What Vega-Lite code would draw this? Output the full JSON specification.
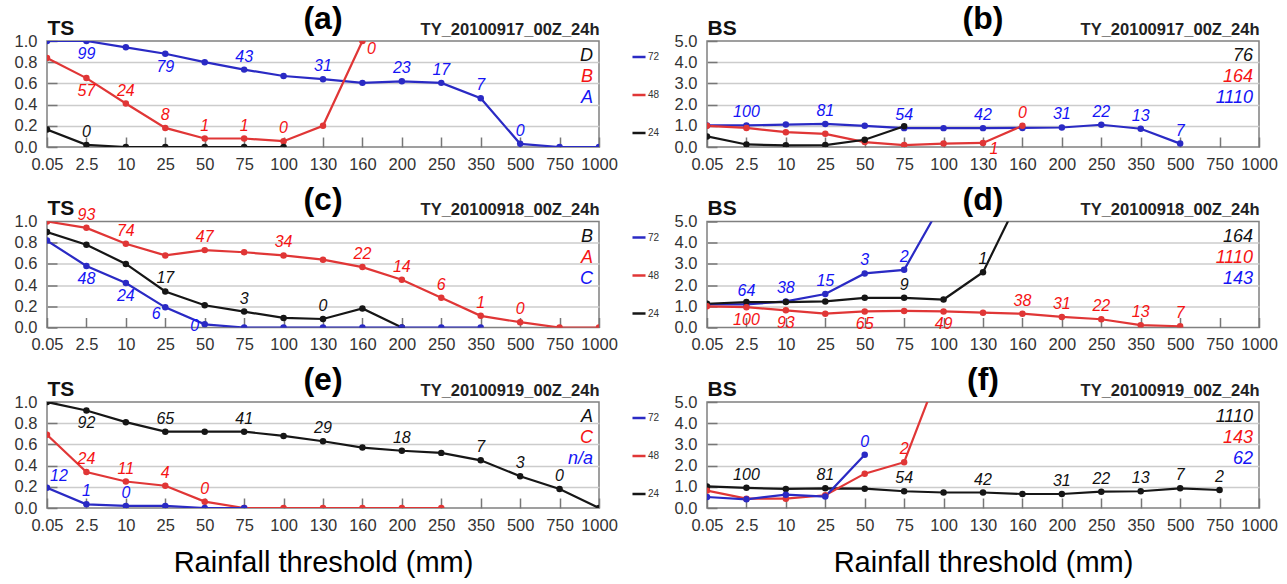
{
  "$schema": "https://vega.github.io/schema/vega-lite/v6.json",
  "background": "white",
  "padding": {"left": 13, "top": 2, "right": 4, "bottom": 5},
  "config": {
    "font": "Liberation Sans",
    "view": {"stroke": "#808080", "strokeWidth": 1.5},
    "title": {"fontSize": 32, "fontWeight": "bold", "anchor": "middle", "offset": 0, "dy": 23, "color": "#000"},
    "axisX": {"labelAngle": 0, "tickSize": -10, "labelPadding": 19, "grid": false, "domain": false, "labelFontSize": 16.5, "labelColor": "#333", "tickColor": "#777", "tickWidth": 1.5, "titleFontSize": 29, "titleFontWeight": "normal", "titlePadding": 15, "titleColor": "#000"},
    "axisY": {"tickSize": -10, "labelPadding": 20, "grid": true, "gridWidth": 1.5, "domain": false, "labelFontSize": 16.5, "labelColor": "#333", "tickColor": "#777", "tickWidth": 1.5, "titleAngle": 0, "titleAlign": "left", "titleBaseline": "alphabetic", "titleX": 0, "titleY": -7, "titleFontSize": 21, "titleFontWeight": "bold", "titleColor": "#111"},
    "legend": {"orient": "left", "symbolType": "stroke", "symbolStrokeWidth": 2.5, "symbolSize": 170, "labelFontSize": 10, "labelColor": "#333", "rowPadding": 25, "padding": 8, "offset": 6, "labelOffset": 1}
  },
  "datasets": {
    "pts": [
      {"p":"a","s":"72","x":"0.05","v":1.0},
      {"p":"a","s":"72","x":"2.5","v":1.0,"l":"99","d":"dn"},
      {"p":"a","s":"72","x":"10","v":0.94},
      {"p":"a","s":"72","x":"25","v":0.88,"l":"79","d":"dn"},
      {"p":"a","s":"72","x":"50","v":0.80},
      {"p":"a","s":"72","x":"75","v":0.73,"l":"43","d":"up"},
      {"p":"a","s":"72","x":"100","v":0.67},
      {"p":"a","s":"72","x":"130","v":0.64,"l":"31","d":"up"},
      {"p":"a","s":"72","x":"160","v":0.605},
      {"p":"a","s":"72","x":"200","v":0.62,"l":"23","d":"up"},
      {"p":"a","s":"72","x":"250","v":0.605,"l":"17","d":"up"},
      {"p":"a","s":"72","x":"350","v":0.46,"l":"7","d":"up"},
      {"p":"a","s":"72","x":"500","v":0.03,"l":"0","d":"up"},
      {"p":"a","s":"72","x":"750","v":0.0},
      {"p":"a","s":"72","x":"1000","v":0.0},
      {"p":"a","s":"48","x":"0.05","v":0.84},
      {"p":"a","s":"48","x":"2.5","v":0.65,"l":"57","d":"dn"},
      {"p":"a","s":"48","x":"10","v":0.41,"l":"24","d":"up"},
      {"p":"a","s":"48","x":"25","v":0.18,"l":"8","d":"up"},
      {"p":"a","s":"48","x":"50","v":0.08,"l":"1","d":"up"},
      {"p":"a","s":"48","x":"75","v":0.08,"l":"1","d":"up"},
      {"p":"a","s":"48","x":"100","v":0.055,"l":"0","d":"up"},
      {"p":"a","s":"48","x":"130","v":0.20},
      {"p":"a","s":"48","x":"160","v":1.0,"l":"0","d":"br"},
      {"p":"a","s":"24","x":"0.05","v":0.165},
      {"p":"a","s":"24","x":"2.5","v":0.02,"l":"0","d":"up"},
      {"p":"a","s":"24","x":"10","v":0.0},
      {"p":"a","s":"24","x":"25","v":0.0},
      {"p":"a","s":"24","x":"50","v":0.0},
      {"p":"a","s":"24","x":"75","v":0.0},
      {"p":"a","s":"24","x":"100","v":0.0},

      {"p":"b","s":"72","x":"0.05","v":1.02},
      {"p":"b","s":"72","x":"2.5","v":1.02,"l":"100","d":"up"},
      {"p":"b","s":"72","x":"10","v":1.06},
      {"p":"b","s":"72","x":"25","v":1.09,"l":"81","d":"up"},
      {"p":"b","s":"72","x":"50","v":1.0},
      {"p":"b","s":"72","x":"75","v":0.89,"l":"54","d":"up"},
      {"p":"b","s":"72","x":"100","v":0.89},
      {"p":"b","s":"72","x":"130","v":0.89,"l":"42","d":"up"},
      {"p":"b","s":"72","x":"160","v":0.9},
      {"p":"b","s":"72","x":"200","v":0.92,"l":"31","d":"up"},
      {"p":"b","s":"72","x":"250","v":1.05,"l":"22","d":"up"},
      {"p":"b","s":"72","x":"350","v":0.86,"l":"13","d":"up"},
      {"p":"b","s":"72","x":"500","v":0.16,"l":"7","d":"up"},
      {"p":"b","s":"48","x":"0.05","v":1.0},
      {"p":"b","s":"48","x":"2.5","v":0.9},
      {"p":"b","s":"48","x":"10","v":0.7},
      {"p":"b","s":"48","x":"25","v":0.62},
      {"p":"b","s":"48","x":"50","v":0.23},
      {"p":"b","s":"48","x":"75","v":0.09},
      {"p":"b","s":"48","x":"100","v":0.16},
      {"p":"b","s":"48","x":"130","v":0.19,"l":"1","d":"br"},
      {"p":"b","s":"48","x":"160","v":1.0,"l":"0","d":"up"},
      {"p":"b","s":"24","x":"0.05","v":0.5},
      {"p":"b","s":"24","x":"2.5","v":0.12},
      {"p":"b","s":"24","x":"10","v":0.08},
      {"p":"b","s":"24","x":"25","v":0.09},
      {"p":"b","s":"24","x":"50","v":0.34},
      {"p":"b","s":"24","x":"75","v":0.98},

      {"p":"c","s":"48","x":"0.05","v":1.0},
      {"p":"c","s":"48","x":"2.5","v":0.94,"l":"93","d":"up"},
      {"p":"c","s":"48","x":"10","v":0.79,"l":"74","d":"up"},
      {"p":"c","s":"48","x":"25","v":0.68},
      {"p":"c","s":"48","x":"50","v":0.73,"l":"47","d":"up"},
      {"p":"c","s":"48","x":"75","v":0.71},
      {"p":"c","s":"48","x":"100","v":0.68,"l":"34","d":"up"},
      {"p":"c","s":"48","x":"130","v":0.64},
      {"p":"c","s":"48","x":"160","v":0.57,"l":"22","d":"up"},
      {"p":"c","s":"48","x":"200","v":0.45,"l":"14","d":"up"},
      {"p":"c","s":"48","x":"250","v":0.28,"l":"6","d":"up"},
      {"p":"c","s":"48","x":"350","v":0.11,"l":"1","d":"up"},
      {"p":"c","s":"48","x":"500","v":0.05,"l":"0","d":"up"},
      {"p":"c","s":"48","x":"750","v":0.0},
      {"p":"c","s":"48","x":"1000","v":0.0},
      {"p":"c","s":"24","x":"0.05","v":0.90},
      {"p":"c","s":"24","x":"2.5","v":0.78},
      {"p":"c","s":"24","x":"10","v":0.60},
      {"p":"c","s":"24","x":"25","v":0.34,"l":"17","d":"up"},
      {"p":"c","s":"24","x":"50","v":0.21},
      {"p":"c","s":"24","x":"75","v":0.15,"l":"3","d":"up"},
      {"p":"c","s":"24","x":"100","v":0.09},
      {"p":"c","s":"24","x":"130","v":0.08,"l":"0","d":"up"},
      {"p":"c","s":"24","x":"160","v":0.18},
      {"p":"c","s":"24","x":"200","v":0.0},
      {"p":"c","s":"72","x":"0.05","v":0.82},
      {"p":"c","s":"72","x":"2.5","v":0.58,"l":"48","d":"dn"},
      {"p":"c","s":"72","x":"10","v":0.42,"l":"24","d":"dn"},
      {"p":"c","s":"72","x":"25","v":0.19,"l":"6","d":"bl"},
      {"p":"c","s":"72","x":"50","v":0.03,"l":"0","d":"bl2"},
      {"p":"c","s":"72","x":"75","v":0.0},
      {"p":"c","s":"72","x":"100","v":0.0},
      {"p":"c","s":"72","x":"130","v":0.0},
      {"p":"c","s":"72","x":"160","v":0.0},
      {"p":"c","s":"72","x":"200","v":0.0},
      {"p":"c","s":"72","x":"250","v":0.0},
      {"p":"c","s":"72","x":"350","v":0.0},

      {"p":"d","s":"72","x":"0.05","v":1.09},
      {"p":"d","s":"72","x":"2.5","v":1.09,"l":"64","d":"up"},
      {"p":"d","s":"72","x":"10","v":1.23,"l":"38","d":"up"},
      {"p":"d","s":"72","x":"25","v":1.58,"l":"15","d":"up"},
      {"p":"d","s":"72","x":"50","v":2.55,"l":"3","d":"up"},
      {"p":"d","s":"72","x":"75","v":2.72,"l":"2","d":"up"},
      {"p":"d","s":"72","x":"100","v":6.0},
      {"p":"d","s":"24","x":"0.05","v":1.12},
      {"p":"d","s":"24","x":"2.5","v":1.2},
      {"p":"d","s":"24","x":"10","v":1.2},
      {"p":"d","s":"24","x":"25","v":1.23},
      {"p":"d","s":"24","x":"50","v":1.4},
      {"p":"d","s":"24","x":"75","v":1.4,"l":"9","d":"up"},
      {"p":"d","s":"24","x":"100","v":1.32},
      {"p":"d","s":"24","x":"130","v":2.61,"l":"1","d":"up"},
      {"p":"d","s":"24","x":"160","v":6.4},
      {"p":"d","s":"48","x":"0.05","v":1.0},
      {"p":"d","s":"48","x":"2.5","v":0.96,"l":"100","d":"dn"},
      {"p":"d","s":"48","x":"10","v":0.81,"l":"93","d":"dn"},
      {"p":"d","s":"48","x":"25","v":0.65},
      {"p":"d","s":"48","x":"50","v":0.76,"l":"65","d":"dn"},
      {"p":"d","s":"48","x":"75","v":0.78},
      {"p":"d","s":"48","x":"100","v":0.76,"l":"49","d":"dn"},
      {"p":"d","s":"48","x":"130","v":0.7},
      {"p":"d","s":"48","x":"160","v":0.65,"l":"38","d":"up"},
      {"p":"d","s":"48","x":"200","v":0.5,"l":"31","d":"up"},
      {"p":"d","s":"48","x":"250","v":0.39,"l":"22","d":"up"},
      {"p":"d","s":"48","x":"350","v":0.11,"l":"13","d":"up"},
      {"p":"d","s":"48","x":"500","v":0.06,"l":"7","d":"up"},

      {"p":"e","s":"24","x":"0.05","v":1.0},
      {"p":"e","s":"24","x":"2.5","v":0.92,"l":"92","d":"dn"},
      {"p":"e","s":"24","x":"10","v":0.81},
      {"p":"e","s":"24","x":"25","v":0.72,"l":"65","d":"up"},
      {"p":"e","s":"24","x":"50","v":0.72},
      {"p":"e","s":"24","x":"75","v":0.72,"l":"41","d":"up"},
      {"p":"e","s":"24","x":"100","v":0.68},
      {"p":"e","s":"24","x":"130","v":0.63,"l":"29","d":"up"},
      {"p":"e","s":"24","x":"160","v":0.57},
      {"p":"e","s":"24","x":"200","v":0.54,"l":"18","d":"up"},
      {"p":"e","s":"24","x":"250","v":0.52},
      {"p":"e","s":"24","x":"350","v":0.45,"l":"7","d":"up"},
      {"p":"e","s":"24","x":"500","v":0.30,"l":"3","d":"up"},
      {"p":"e","s":"24","x":"750","v":0.18,"l":"0","d":"up"},
      {"p":"e","s":"24","x":"1000","v":0.0},
      {"p":"e","s":"48","x":"0.05","v":0.69},
      {"p":"e","s":"48","x":"2.5","v":0.34,"l":"24","d":"up"},
      {"p":"e","s":"48","x":"10","v":0.25,"l":"11","d":"up"},
      {"p":"e","s":"48","x":"25","v":0.21,"l":"4","d":"up"},
      {"p":"e","s":"48","x":"50","v":0.06,"l":"0","d":"up"},
      {"p":"e","s":"48","x":"75","v":0.0},
      {"p":"e","s":"48","x":"100","v":0.0},
      {"p":"e","s":"48","x":"130","v":0.0},
      {"p":"e","s":"48","x":"160","v":0.0},
      {"p":"e","s":"48","x":"200","v":0.0},
      {"p":"e","s":"48","x":"250","v":0.0},
      {"p":"e","s":"72","x":"0.05","v":0.19,"l":"12","d":"ur"},
      {"p":"e","s":"72","x":"2.5","v":0.035,"l":"1","d":"up"},
      {"p":"e","s":"72","x":"10","v":0.02,"l":"0","d":"up"},
      {"p":"e","s":"72","x":"25","v":0.02},
      {"p":"e","s":"72","x":"50","v":0.0},
      {"p":"e","s":"72","x":"75","v":0.0},

      {"p":"f","s":"24","x":"0.05","v":1.02},
      {"p":"f","s":"24","x":"2.5","v":0.95,"l":"100","d":"up"},
      {"p":"f","s":"24","x":"10","v":0.9},
      {"p":"f","s":"24","x":"25","v":0.93,"l":"81","d":"up"},
      {"p":"f","s":"24","x":"50","v":0.91},
      {"p":"f","s":"24","x":"75","v":0.79,"l":"54","d":"up"},
      {"p":"f","s":"24","x":"100","v":0.73},
      {"p":"f","s":"24","x":"130","v":0.73,"l":"42","d":"up"},
      {"p":"f","s":"24","x":"160","v":0.66},
      {"p":"f","s":"24","x":"200","v":0.66,"l":"31","d":"up"},
      {"p":"f","s":"24","x":"250","v":0.77,"l":"22","d":"up"},
      {"p":"f","s":"24","x":"350","v":0.79,"l":"13","d":"up"},
      {"p":"f","s":"24","x":"500","v":0.93,"l":"7","d":"up"},
      {"p":"f","s":"24","x":"750","v":0.85,"l":"2","d":"up"},
      {"p":"f","s":"48","x":"0.05","v":0.82},
      {"p":"f","s":"48","x":"2.5","v":0.44},
      {"p":"f","s":"48","x":"10","v":0.44},
      {"p":"f","s":"48","x":"25","v":0.6},
      {"p":"f","s":"48","x":"50","v":1.62},
      {"p":"f","s":"48","x":"75","v":2.16,"l":"2","d":"up"},
      {"p":"f","s":"48","x":"100","v":7.0},
      {"p":"f","s":"72","x":"0.05","v":0.52},
      {"p":"f","s":"72","x":"2.5","v":0.41},
      {"p":"f","s":"72","x":"10","v":0.63},
      {"p":"f","s":"72","x":"25","v":0.54},
      {"p":"f","s":"72","x":"50","v":2.51,"l":"0","d":"up"}
    ],
    "ann": [
      {"p":"a","s":"24","t":"D"},{"p":"a","s":"48","t":"B"},{"p":"a","s":"72","t":"A"},
      {"p":"b","s":"24","t":"76"},{"p":"b","s":"48","t":"164"},{"p":"b","s":"72","t":"1110"},
      {"p":"c","s":"24","t":"B"},{"p":"c","s":"48","t":"A"},{"p":"c","s":"72","t":"C"},
      {"p":"d","s":"24","t":"164"},{"p":"d","s":"48","t":"1110"},{"p":"d","s":"72","t":"143"},
      {"p":"e","s":"24","t":"A"},{"p":"e","s":"48","t":"C"},{"p":"e","s":"72","t":"n/a"},
      {"p":"f","s":"24","t":"1110"},{"p":"f","s":"48","t":"143"},{"p":"f","s":"72","t":"62"}
    ]
  },
  "columns": 2,
  "spacing": {"row": 74.5, "column": 108},
  "bounds": "flush",
  "resolve": {"scale": {"color": "independent", "fill": "independent"}, "legend": {"color": "independent", "fill": "independent"}},
  "concat": [
    {
      "title": "(a)", "width": 552, "height": 106,
      "resolve": {"scale": {"y": "independent"}},
      "layer": [
        {
          "data": {"name": "pts"},
          "transform": [{"filter": "datum.p == 'a'"}],
          "encoding": {
            "x": {"field": "x", "type": "ordinal", "scale": {"type": "point", "padding": 0, "domain": ["0.05","2.5","10","25","50","75","100","130","160","200","250","350","500","750","1000"]}, "axis": {"title": null}},
            "y": {"field": "v", "type": "quantitative", "scale": {"domain": [0, 1]}, "axis": {"values": [0,0.2,0.4,0.6,0.8,1], "format": ".1f", "title": "TS", "gridColor": {"condition": {"test": "datum.value == 0 || datum.value == 1", "value": "rgba(0,0,0,0)"}, "value": "#cccccc"}}}
          },
          "layer": [
            {"mark": {"type": "line", "clip": true, "strokeWidth": 2.2}, "encoding": {"color": {"field": "s", "type": "nominal", "scale": {"domain": ["72","48","24"], "range": ["#2a2ac4","#e03636","#161616"]}, "legend": null}}},
            {"mark": {"type": "circle", "clip": true, "size": 42, "opacity": 1}, "encoding": {"color": {"field": "s", "type": "nominal", "scale": {"domain": ["72","48","24"], "range": ["#2a2ac4","#e03636","#161616"]}, "legend": null}}},
            {"transform": [{"filter": "datum.d == 'up'"}], "mark": {"type": "text", "dy": -13, "fontStyle": "italic", "fontSize": 16}, "encoding": {"text": {"field": "l"}, "fill": {"field": "s", "type": "nominal", "scale": {"domain": ["72","48","24"], "range": ["#1414f5","#f51414","#111111"]}, "legend": null}}},
            {"transform": [{"filter": "datum.d == 'dn'"}], "mark": {"type": "text", "dy": 13, "fontStyle": "italic", "fontSize": 16}, "encoding": {"text": {"field": "l"}, "fill": {"field": "s", "type": "nominal", "scale": {"domain": ["72","48","24"], "range": ["#1414f5","#f51414","#111111"]}, "legend": null}}},
            {"transform": [{"filter": "datum.d == 'br'"}], "mark": {"type": "text", "dx": 9, "dy": 8, "fontStyle": "italic", "fontSize": 16}, "encoding": {"text": {"field": "l"}, "fill": {"field": "s", "type": "nominal", "scale": {"domain": ["72","48","24"], "range": ["#1414f5","#f51414","#111111"]}, "legend": null}}}
          ]
        },
        {
          "data": {"name": "ann"},
          "transform": [{"filter": "datum.p == 'a'"}],
          "mark": {"type": "text", "align": "right", "dx": -6, "fontStyle": "italic", "fontSize": 18},
          "encoding": {
            "x": {"datum": "1000", "type": "ordinal"},
            "y": {"field": "s", "type": "nominal", "scale": {"type": "point", "domain": ["24","48","72"], "range": [15, 57], "padding": 0}, "axis": {"orient": "right", "labels": false, "ticks": false, "domain": false, "grid": false, "title": "TY_20100917_00Z_24h", "titleAngle": 0, "titleAlign": "right", "titleBaseline": "alphabetic", "titleX": 0, "titleY": -7, "titleFontSize": 16.5, "titleFontWeight": "bold", "titleColor": "#222"}},
            "text": {"field": "t"},
            "fill": {"field": "s", "type": "nominal", "scale": {"domain": ["72","48","24"], "range": ["#1414f5","#f51414","#111111"]}, "legend": null}
          }
        }
      ]
    },
    {
      "title": "(b)", "width": 552, "height": 106,
      "resolve": {"scale": {"y": "independent"}},
      "layer": [
        {
          "data": {"name": "pts"},
          "transform": [{"filter": "datum.p == 'b'"}],
          "encoding": {
            "x": {"field": "x", "type": "ordinal", "scale": {"type": "point", "padding": 0, "domain": ["0.05","2.5","10","25","50","75","100","130","160","200","250","350","500","750","1000"]}, "axis": {"title": null}},
            "y": {"field": "v", "type": "quantitative", "scale": {"domain": [0, 5]}, "axis": {"values": [0,1,2,3,4,5], "format": ".1f", "title": "BS", "gridColor": {"condition": {"test": "datum.value == 0 || datum.value == 5", "value": "rgba(0,0,0,0)"}, "value": "#cccccc"}}}
          },
          "layer": [
            {"mark": {"type": "line", "clip": true, "strokeWidth": 2.2}, "encoding": {"color": {"field": "s", "type": "nominal", "scale": {"domain": ["72","48","24"], "range": ["#2a2ac4","#e03636","#161616"]}, "legend": {"title": null}}}},
            {"mark": {"type": "circle", "clip": true, "size": 42, "opacity": 1}, "encoding": {"color": {"field": "s", "type": "nominal", "scale": {"domain": ["72","48","24"], "range": ["#2a2ac4","#e03636","#161616"]}}}},
            {"transform": [{"filter": "datum.d == 'up'"}], "mark": {"type": "text", "dy": -13, "fontStyle": "italic", "fontSize": 16}, "encoding": {"text": {"field": "l"}, "fill": {"field": "s", "type": "nominal", "scale": {"domain": ["72","48","24"], "range": ["#1414f5","#f51414","#111111"]}, "legend": null}}},
            {"transform": [{"filter": "datum.d == 'br'"}], "mark": {"type": "text", "dx": 11, "dy": 6, "fontStyle": "italic", "fontSize": 16}, "encoding": {"text": {"field": "l"}, "fill": {"field": "s", "type": "nominal", "scale": {"domain": ["72","48","24"], "range": ["#1414f5","#f51414","#111111"]}, "legend": null}}}
          ]
        },
        {
          "data": {"name": "ann"},
          "transform": [{"filter": "datum.p == 'b'"}],
          "mark": {"type": "text", "align": "right", "dx": -6, "fontStyle": "italic", "fontSize": 18},
          "encoding": {
            "x": {"datum": "1000", "type": "ordinal"},
            "y": {"field": "s", "type": "nominal", "scale": {"type": "point", "domain": ["24","48","72"], "range": [15, 57], "padding": 0}, "axis": {"orient": "right", "labels": false, "ticks": false, "domain": false, "grid": false, "title": "TY_20100917_00Z_24h", "titleAngle": 0, "titleAlign": "right", "titleBaseline": "alphabetic", "titleX": 0, "titleY": -7, "titleFontSize": 16.5, "titleFontWeight": "bold", "titleColor": "#222"}},
            "text": {"field": "t"},
            "fill": {"field": "s", "type": "nominal", "scale": {"domain": ["72","48","24"], "range": ["#1414f5","#f51414","#111111"]}, "legend": null}
          }
        }
      ]
    },
    {
      "title": "(c)", "width": 552, "height": 106,
      "resolve": {"scale": {"y": "independent"}},
      "layer": [
        {
          "data": {"name": "pts"},
          "transform": [{"filter": "datum.p == 'c'"}],
          "encoding": {
            "x": {"field": "x", "type": "ordinal", "scale": {"type": "point", "padding": 0, "domain": ["0.05","2.5","10","25","50","75","100","130","160","200","250","350","500","750","1000"]}, "axis": {"title": null}},
            "y": {"field": "v", "type": "quantitative", "scale": {"domain": [0, 1]}, "axis": {"values": [0,0.2,0.4,0.6,0.8,1], "format": ".1f", "title": "TS", "gridColor": {"condition": {"test": "datum.value == 0 || datum.value == 1", "value": "rgba(0,0,0,0)"}, "value": "#cccccc"}}}
          },
          "layer": [
            {"mark": {"type": "line", "clip": true, "strokeWidth": 2.2}, "encoding": {"color": {"field": "s", "type": "nominal", "scale": {"domain": ["72","48","24"], "range": ["#2a2ac4","#e03636","#161616"]}, "legend": null}}},
            {"mark": {"type": "circle", "clip": true, "size": 42, "opacity": 1}, "encoding": {"color": {"field": "s", "type": "nominal", "scale": {"domain": ["72","48","24"], "range": ["#2a2ac4","#e03636","#161616"]}, "legend": null}}},
            {"transform": [{"filter": "datum.d == 'up'"}], "mark": {"type": "text", "dy": -13, "fontStyle": "italic", "fontSize": 16}, "encoding": {"text": {"field": "l"}, "fill": {"field": "s", "type": "nominal", "scale": {"domain": ["72","48","24"], "range": ["#1414f5","#f51414","#111111"]}, "legend": null}}},
            {"transform": [{"filter": "datum.d == 'dn'"}], "mark": {"type": "text", "dy": 13, "fontStyle": "italic", "fontSize": 16}, "encoding": {"text": {"field": "l"}, "fill": {"field": "s", "type": "nominal", "scale": {"domain": ["72","48","24"], "range": ["#1414f5","#f51414","#111111"]}, "legend": null}}},
            {"transform": [{"filter": "datum.d == 'bl'"}], "mark": {"type": "text", "dx": -9, "dy": 7, "fontStyle": "italic", "fontSize": 16}, "encoding": {"text": {"field": "l"}, "fill": {"field": "s", "type": "nominal", "scale": {"domain": ["72","48","24"], "range": ["#1414f5","#f51414","#111111"]}, "legend": null}}},
            {"transform": [{"filter": "datum.d == 'bl2'"}], "mark": {"type": "text", "dx": -10, "dy": 2, "fontStyle": "italic", "fontSize": 16}, "encoding": {"text": {"field": "l"}, "fill": {"field": "s", "type": "nominal", "scale": {"domain": ["72","48","24"], "range": ["#1414f5","#f51414","#111111"]}, "legend": null}}}
          ]
        },
        {
          "data": {"name": "ann"},
          "transform": [{"filter": "datum.p == 'c'"}],
          "mark": {"type": "text", "align": "right", "dx": -6, "fontStyle": "italic", "fontSize": 18},
          "encoding": {
            "x": {"datum": "1000", "type": "ordinal"},
            "y": {"field": "s", "type": "nominal", "scale": {"type": "point", "domain": ["24","48","72"], "range": [15, 57], "padding": 0}, "axis": {"orient": "right", "labels": false, "ticks": false, "domain": false, "grid": false, "title": "TY_20100918_00Z_24h", "titleAngle": 0, "titleAlign": "right", "titleBaseline": "alphabetic", "titleX": 0, "titleY": -7, "titleFontSize": 16.5, "titleFontWeight": "bold", "titleColor": "#222"}},
            "text": {"field": "t"},
            "fill": {"field": "s", "type": "nominal", "scale": {"domain": ["72","48","24"], "range": ["#1414f5","#f51414","#111111"]}, "legend": null}
          }
        }
      ]
    },
    {
      "title": "(d)", "width": 552, "height": 106,
      "resolve": {"scale": {"y": "independent"}},
      "layer": [
        {
          "data": {"name": "pts"},
          "transform": [{"filter": "datum.p == 'd'"}],
          "encoding": {
            "x": {"field": "x", "type": "ordinal", "scale": {"type": "point", "padding": 0, "domain": ["0.05","2.5","10","25","50","75","100","130","160","200","250","350","500","750","1000"]}, "axis": {"title": null}},
            "y": {"field": "v", "type": "quantitative", "scale": {"domain": [0, 5]}, "axis": {"values": [0,1,2,3,4,5], "format": ".1f", "title": "BS", "gridColor": {"condition": {"test": "datum.value == 0 || datum.value == 5", "value": "rgba(0,0,0,0)"}, "value": "#cccccc"}}}
          },
          "layer": [
            {"mark": {"type": "line", "clip": true, "strokeWidth": 2.2}, "encoding": {"color": {"field": "s", "type": "nominal", "scale": {"domain": ["72","48","24"], "range": ["#2a2ac4","#e03636","#161616"]}, "legend": {"title": null}}}},
            {"mark": {"type": "circle", "clip": true, "size": 42, "opacity": 1}, "encoding": {"color": {"field": "s", "type": "nominal", "scale": {"domain": ["72","48","24"], "range": ["#2a2ac4","#e03636","#161616"]}}}},
            {"transform": [{"filter": "datum.d == 'up'"}], "mark": {"type": "text", "dy": -13, "fontStyle": "italic", "fontSize": 16}, "encoding": {"text": {"field": "l"}, "fill": {"field": "s", "type": "nominal", "scale": {"domain": ["72","48","24"], "range": ["#1414f5","#f51414","#111111"]}, "legend": null}}},
            {"transform": [{"filter": "datum.d == 'dn'"}], "mark": {"type": "text", "dy": 13, "fontStyle": "italic", "fontSize": 16}, "encoding": {"text": {"field": "l"}, "fill": {"field": "s", "type": "nominal", "scale": {"domain": ["72","48","24"], "range": ["#1414f5","#f51414","#111111"]}, "legend": null}}}
          ]
        },
        {
          "data": {"name": "ann"},
          "transform": [{"filter": "datum.p == 'd'"}],
          "mark": {"type": "text", "align": "right", "dx": -6, "fontStyle": "italic", "fontSize": 18},
          "encoding": {
            "x": {"datum": "1000", "type": "ordinal"},
            "y": {"field": "s", "type": "nominal", "scale": {"type": "point", "domain": ["24","48","72"], "range": [15, 57], "padding": 0}, "axis": {"orient": "right", "labels": false, "ticks": false, "domain": false, "grid": false, "title": "TY_20100918_00Z_24h", "titleAngle": 0, "titleAlign": "right", "titleBaseline": "alphabetic", "titleX": 0, "titleY": -7, "titleFontSize": 16.5, "titleFontWeight": "bold", "titleColor": "#222"}},
            "text": {"field": "t"},
            "fill": {"field": "s", "type": "nominal", "scale": {"domain": ["72","48","24"], "range": ["#1414f5","#f51414","#111111"]}, "legend": null}
          }
        }
      ]
    },
    {
      "title": "(e)", "width": 552, "height": 106,
      "resolve": {"scale": {"y": "independent"}},
      "layer": [
        {
          "data": {"name": "pts"},
          "transform": [{"filter": "datum.p == 'e'"}],
          "encoding": {
            "x": {"field": "x", "type": "ordinal", "scale": {"type": "point", "padding": 0, "domain": ["0.05","2.5","10","25","50","75","100","130","160","200","250","350","500","750","1000"]}, "axis": {"title": "Rainfall threshold (mm)"}},
            "y": {"field": "v", "type": "quantitative", "scale": {"domain": [0, 1]}, "axis": {"values": [0,0.2,0.4,0.6,0.8,1], "format": ".1f", "title": "TS", "gridColor": {"condition": {"test": "datum.value == 0 || datum.value == 1", "value": "rgba(0,0,0,0)"}, "value": "#cccccc"}}}
          },
          "layer": [
            {"mark": {"type": "line", "clip": true, "strokeWidth": 2.2}, "encoding": {"color": {"field": "s", "type": "nominal", "scale": {"domain": ["72","48","24"], "range": ["#2a2ac4","#e03636","#161616"]}, "legend": null}}},
            {"mark": {"type": "circle", "clip": true, "size": 42, "opacity": 1}, "encoding": {"color": {"field": "s", "type": "nominal", "scale": {"domain": ["72","48","24"], "range": ["#2a2ac4","#e03636","#161616"]}, "legend": null}}},
            {"transform": [{"filter": "datum.d == 'up'"}], "mark": {"type": "text", "dy": -13, "fontStyle": "italic", "fontSize": 16}, "encoding": {"text": {"field": "l"}, "fill": {"field": "s", "type": "nominal", "scale": {"domain": ["72","48","24"], "range": ["#1414f5","#f51414","#111111"]}, "legend": null}}},
            {"transform": [{"filter": "datum.d == 'dn'"}], "mark": {"type": "text", "dy": 13, "fontStyle": "italic", "fontSize": 16}, "encoding": {"text": {"field": "l"}, "fill": {"field": "s", "type": "nominal", "scale": {"domain": ["72","48","24"], "range": ["#1414f5","#f51414","#111111"]}, "legend": null}}},
            {"transform": [{"filter": "datum.d == 'ur'"}], "mark": {"type": "text", "dx": 12, "dy": -12, "fontStyle": "italic", "fontSize": 16}, "encoding": {"text": {"field": "l"}, "fill": {"field": "s", "type": "nominal", "scale": {"domain": ["72","48","24"], "range": ["#1414f5","#f51414","#111111"]}, "legend": null}}}
          ]
        },
        {
          "data": {"name": "ann"},
          "transform": [{"filter": "datum.p == 'e'"}],
          "mark": {"type": "text", "align": "right", "dx": -6, "fontStyle": "italic", "fontSize": 18},
          "encoding": {
            "x": {"datum": "1000", "type": "ordinal"},
            "y": {"field": "s", "type": "nominal", "scale": {"type": "point", "domain": ["24","48","72"], "range": [15, 57], "padding": 0}, "axis": {"orient": "right", "labels": false, "ticks": false, "domain": false, "grid": false, "title": "TY_20100919_00Z_24h", "titleAngle": 0, "titleAlign": "right", "titleBaseline": "alphabetic", "titleX": 0, "titleY": -7, "titleFontSize": 16.5, "titleFontWeight": "bold", "titleColor": "#222"}},
            "text": {"field": "t"},
            "fill": {"field": "s", "type": "nominal", "scale": {"domain": ["72","48","24"], "range": ["#1414f5","#f51414","#111111"]}, "legend": null}
          }
        }
      ]
    },
    {
      "title": "(f)", "width": 552, "height": 106,
      "resolve": {"scale": {"y": "independent"}},
      "layer": [
        {
          "data": {"name": "pts"},
          "transform": [{"filter": "datum.p == 'f'"}],
          "encoding": {
            "x": {"field": "x", "type": "ordinal", "scale": {"type": "point", "padding": 0, "domain": ["0.05","2.5","10","25","50","75","100","130","160","200","250","350","500","750","1000"]}, "axis": {"title": "Rainfall threshold (mm)"}},
            "y": {"field": "v", "type": "quantitative", "scale": {"domain": [0, 5]}, "axis": {"values": [0,1,2,3,4,5], "format": ".1f", "title": "BS", "gridColor": {"condition": {"test": "datum.value == 0 || datum.value == 5", "value": "rgba(0,0,0,0)"}, "value": "#cccccc"}}}
          },
          "layer": [
            {"mark": {"type": "line", "clip": true, "strokeWidth": 2.2}, "encoding": {"color": {"field": "s", "type": "nominal", "scale": {"domain": ["72","48","24"], "range": ["#2a2ac4","#e03636","#161616"]}, "legend": {"title": null}}}},
            {"mark": {"type": "circle", "clip": true, "size": 42, "opacity": 1}, "encoding": {"color": {"field": "s", "type": "nominal", "scale": {"domain": ["72","48","24"], "range": ["#2a2ac4","#e03636","#161616"]}}}},
            {"transform": [{"filter": "datum.d == 'up'"}], "mark": {"type": "text", "dy": -13, "fontStyle": "italic", "fontSize": 16}, "encoding": {"text": {"field": "l"}, "fill": {"field": "s", "type": "nominal", "scale": {"domain": ["72","48","24"], "range": ["#1414f5","#f51414","#111111"]}, "legend": null}}}
          ]
        },
        {
          "data": {"name": "ann"},
          "transform": [{"filter": "datum.p == 'f'"}],
          "mark": {"type": "text", "align": "right", "dx": -6, "fontStyle": "italic", "fontSize": 18},
          "encoding": {
            "x": {"datum": "1000", "type": "ordinal"},
            "y": {"field": "s", "type": "nominal", "scale": {"type": "point", "domain": ["24","48","72"], "range": [15, 57], "padding": 0}, "axis": {"orient": "right", "labels": false, "ticks": false, "domain": false, "grid": false, "title": "TY_20100919_00Z_24h", "titleAngle": 0, "titleAlign": "right", "titleBaseline": "alphabetic", "titleX": 0, "titleY": -7, "titleFontSize": 16.5, "titleFontWeight": "bold", "titleColor": "#222"}},
            "text": {"field": "t"},
            "fill": {"field": "s", "type": "nominal", "scale": {"domain": ["72","48","24"], "range": ["#1414f5","#f51414","#111111"]}, "legend": null}
          }
        }
      ]
    }
  ]
}
